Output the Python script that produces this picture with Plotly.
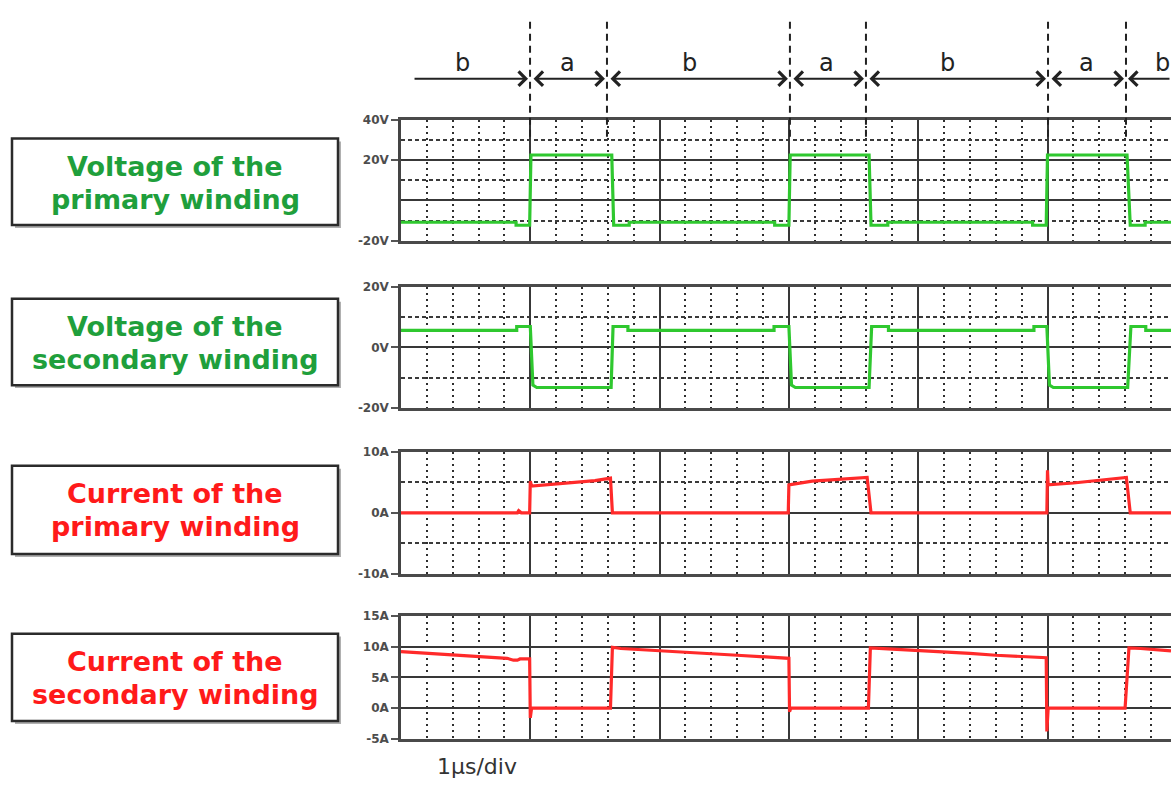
import plotly.graph_objects as go

# ---------------- data (time in µs, 1 µs/div) ----------------
prim_v_t = [0, 0.89, 0.89, 0.995, 1.005, 1.63, 1.645, 1.765, 1.765, 2.89, 2.89, 3.0, 3.01,
            3.62, 3.635, 3.765, 3.765, 4.885, 4.885, 4.99, 5.0, 5.615, 5.64, 5.755, 5.755, 5.955]
prim_v = [-10.8, -10.8, -12.3, -12.3, 22.6, 22.6, -12.3, -12.3, -10.8, -10.8, -12.3, -12.3, 22.6,
          22.6, -12.3, -12.3, -10.8, -10.8, -12.3, -12.3, 22.6, 22.6, -12.3, -12.3, -10.8, -10.8]

sec_v_t = [0, 0.895, 0.895, 1.0, 1.02, 1.05, 1.625, 1.64, 1.755, 1.755, 2.885, 2.885, 3.0, 3.02,
           3.05, 3.62, 3.64, 3.77, 3.77, 4.895, 4.895, 4.995, 5.015, 5.045, 5.62, 5.645, 5.76, 5.76, 5.955]
sec_v = [5.6, 5.6, 6.9, 6.9, -12.5, -13.3, -13.3, 6.9, 6.9, 5.6, 5.6, 6.9, 6.9, -12.5,
         -13.3, -13.3, 6.9, 6.9, 5.6, 5.6, 6.9, 6.9, -12.5, -13.3, -13.3, 6.9, 6.9, 5.6, 5.6]

prim_i_t = [0, 0.9, 0.91, 0.93, 0.995, 1.0, 1.01, 1.2, 1.35, 1.5, 1.62, 1.635, 2.995, 3.0, 3.18,
            3.39, 3.55, 3.605, 3.635, 4.995, 5.0, 5.005, 5.2, 5.4, 5.58, 5.61, 5.64, 5.955]
prim_i = [0, 0, 0.35, 0, 0, 5.2, 4.4, 4.7, 5.0, 5.3, 5.7, 0, 0, 4.6, 5.2,
          5.5, 5.75, 5.8, 0, 0, 7.0, 4.6, 4.9, 5.3, 5.7, 5.8, 0, 0]

sec_i_t = [0, 0.28, 0.46, 0.66, 0.82, 0.87, 0.9, 0.92, 0.995, 1.0, 1.01, 1.62, 1.635, 1.7, 2.0,
           2.3, 2.6, 2.85, 3.0, 3.005, 3.015, 3.615, 3.63, 3.8, 4.0, 4.2, 4.4, 4.6, 4.8, 4.99,
           4.995, 5.005, 5.6, 5.63, 5.72, 5.88, 5.955]
sec_i = [9.2, 8.8, 8.5, 8.3, 8.1, 7.8, 7.8, 8.0, 8.0, -1.6, 0, 0, 9.9, 9.7, 9.3,
         8.9, 8.6, 8.3, 8.1, -0.6, 0, 0, 9.8, 9.6, 9.4, 9.2, 8.9, 8.6, 8.4, 8.2,
         -3.8, 0, 0, 9.8, 9.7, 9.4, 9.3]

# phase boundaries (µs) and labels of the top dimension arrows
phase_bounds = [0.998, 1.593, 3.008, 3.596, 5.004, 5.607]
phase_labels = ["b", "a", "b", "a", "b", "a", "b"]
first_arrow_start = 0.093

panel_titles = [("Voltage of the", "primary winding"), ("Voltage of the", "secondary winding"),
                ("Current of the", "primary winding"), ("Current of the", "secondary winding")]
y_ranges = [[-20, 40], [-20, 20], [-10, 10], [-5, 15]]
y_tickvals = [[40, 20, -20], [20, 0, -20], [10, 0, -10], [15, 10, 5, 0, -5]]
y_ticktext = [["40V", "20V", "-20V"], ["20V", "0V", "-20V"], ["10A", "0A", "-10A"],
              ["15A", "10A", "5A", "0A", "-5A"]]
y_minor = [[30, 10, -10], [10, -10], [5, -5], []]

# ---------------- layout helpers ----------------
W, H = 1171, 787
L = 401
XMAX = (W - L) / 129.3
GREEN, RED = "#2fc82f", "#ff2a2a"
TXT_GREEN, TXT_RED = "#1f9f3c", "#ff1a1a"


def py(p):
    return 1 - p / H


def px(p):
    return (p - L) / (W - L)


panel_px = [(115, 238), (285, 408), (453, 577), (620, 745)]
box_px = [(134, 222), (297, 385), (467, 557), (638, 727)]
series = [(prim_v_t, prim_v, GREEN), (sec_v_t, sec_v, GREEN),
          (prim_i_t, prim_i, RED), (sec_i_t, sec_i, RED)]
title_colors = [TXT_GREEN, TXT_GREEN, TXT_RED, TXT_RED]

fig = go.Figure()
layout = dict(
    width=W, height=H, margin=dict(l=L, r=0, t=0, b=0),
    paper_bgcolor="white", plot_bgcolor="white", showlegend=False,
    hovermode=False,
)
shapes, annotations = [], []

for i in range(4):
    n = "" if i == 0 else str(i + 1)
    top, bot = panel_px[i]
    xs, ys, col = series[i]
    fig.add_trace(go.Scatter(x=xs, y=ys, mode="lines", line=dict(color=col, width=3.2),
                             xaxis="x" + n, yaxis="y" + n))
    layout["xaxis" + n] = dict(
        domain=[0, 1], range=[0, XMAX], anchor="y" + n,
        tickmode="linear", tick0=0, dtick=1, showticklabels=False, ticks="",
        showgrid=True, gridcolor="#383838", gridwidth=2, zeroline=False,
        showline=True, mirror=True, linecolor="#4a4a4a", linewidth=2.5,
        minor=dict(tick0=0, dtick=0.2, showgrid=True, griddash="2px,4px",
                   gridcolor="#2e2e2e", gridwidth=2, ticks=""),
        fixedrange=True,
    )
    ymin = dict(tickmode="array", tickvals=y_minor[i], showgrid=True, griddash="4px,3px",
                gridcolor="#3a3a3a", gridwidth=1.8, ticks="") if y_minor[i] else dict(showgrid=False)
    layout["yaxis" + n] = dict(
        domain=[py(bot), py(top)], range=y_ranges[i], anchor="x" + n,
        tickmode="array", tickvals=y_tickvals[i], ticktext=y_ticktext[i],
        ticks="outside", ticklen=7, tickwidth=2, tickcolor="#555555",
        tickfont=dict(family="DejaVu Sans", size=12, color="#4d4d4d", weight="bold"),
        showgrid=True, gridcolor="#383838", gridwidth=2,
        zeroline=True, zerolinecolor="#383838", zerolinewidth=2,
        showline=True, mirror=False, linecolor="#444444", linewidth=2.5,
        minor=ymin, fixedrange=True,
    )
    # label box on the left
    b0, b1 = box_px[i]
    shapes.append(dict(type="rect", xref="paper", yref="paper",
                       x0=px(15), x1=px(341), y0=py(b1 + 3), y1=py(b0 + 3),
                       line=dict(width=0), fillcolor="#b0b0b0"))
    shapes.append(dict(type="rect", xref="paper", yref="paper",
                       x0=px(12), x1=px(338), y0=py(b1), y1=py(b0),
                       line=dict(color="#2b2b2b", width=2.5), fillcolor="white"))
    for j, line_txt in enumerate(panel_titles[i]):
        annotations.append(dict(xref="paper", yref="paper", x=px(175),
                                y=py(b0 + 28.5 + 33 * j),
                                text=line_txt, showarrow=False, xanchor="center",
                                yanchor="middle", align="center",
                                font=dict(family="DejaVu Sans", size=27, color=title_colors[i],
                                          weight="bold")))

# dashed phase boundary lines
for b in phase_bounds:
    shapes.append(dict(type="line", xref="x", yref="paper", x0=b, x1=b,
                       y0=py(132), y1=py(11), line=dict(color="#222222", width=2, dash="7px,5px")))

# dimension arrows
gap = 2 / 129.3
starts = [first_arrow_start] + phase_bounds
ends = phase_bounds + [XMAX]
for k, (s, e) in enumerate(zip(starts, ends)):
    common = dict(xref="x", yref="paper", axref="x", ayref="pixel", y=py(73), ay=0,
                  text="", showarrow=True, arrowcolor="#222222", arrowwidth=2,
                  arrowhead=4, startarrowhead=4, arrowsize=1.4, startarrowsize=1.4,
                  standoff=0, startstandoff=0)
    if k == 0:
        annotations.append(dict(common, x=e - gap, ax=s, arrowside="end"))
    elif k == len(starts) - 1:
        annotations.append(dict(common, x=s + gap, ax=e, arrowside="end"))
    else:
        annotations.append(dict(common, x=e - gap, ax=s + gap, arrowside="end+start"))
    shift = -9 if phase_labels[k] == "b" else -1
    if k == len(starts) - 1:
        shift = 14
    annotations.append(dict(xref="x", yref="paper", x=(s + e) / 2, y=py(57), xshift=shift,
                            xanchor="center", yanchor="middle",
                            text=phase_labels[k], showarrow=False,
                            font=dict(family="DejaVu Sans", size=24, color="#222222")))

annotations.append(dict(xref="paper", yref="paper", x=px(477), y=py(773), text="1μs/div",
                        xanchor="center", yanchor="middle",
                        showarrow=False, font=dict(family="DejaVu Sans", size=22, color="#333333")))

layout["shapes"] = shapes
layout["annotations"] = annotations
fig.update_layout(**layout)

fig.write_html("out.html", config={"displayModeBar": False},
               post_script="document.body.style.margin='0';document.body.style.overflow='hidden';")
